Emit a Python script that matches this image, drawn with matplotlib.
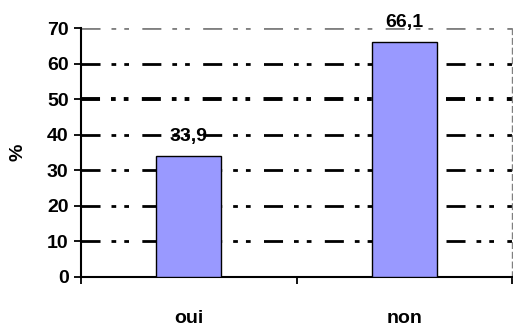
import matplotlib
matplotlib.use("Agg")
import matplotlib.pyplot as plt
from matplotlib.ticker import FixedLocator

categories = ["oui", "non"]
values = [33.9, 66.1]
value_labels = ["33,9", "66,1"]
y_ticks = [0, 10, 20, 30, 40, 50, 60, 70]

plt.rcParams["font.family"] = ["Liberation Sans", "DejaVu Sans"]
plt.rcParams["font.weight"] = "bold"
plt.rcParams["lines.scale_dashes"] = False

FS = 14

fig = plt.figure(figsize=(5.13, 3.27), dpi=100)
ax = fig.add_axes([0.158, 0.153, 0.840, 0.761])

x = list(range(len(categories)))
ax.set_xlim(-0.5, len(categories) - 0.5)
ax.set_ylim(0, 70)

# dash-dot-dot gridlines
dash = (0, (13.7, 7.9, 3.4, 5.8, 3.4, 9.6))
for yv in y_ticks[1:-1]:
    lw = 2.8 if yv == 50 else 2.0
    ax.axhline(yv, color="black", lw=lw, linestyle=dash, zorder=1)
# top border of plot area
ax.axhline(70, color="#808080", lw=2.0, linestyle=dash, zorder=1)

ax.bar(x, values, width=0.3, color="#9999FF", edgecolor="black", linewidth=1.0, zorder=3)

for xi, v, lab in zip(x, values, value_labels):
    ax.text(xi, v + 4.3, lab, ha="center", va="baseline", fontsize=FS, fontweight="bold", zorder=4)

ax.spines["top"].set_visible(False)
ax.spines["right"].set_color("#808080")
ax.spines["right"].set_linestyle((0, (4, 3)))
ax.spines["right"].set_linewidth(1.0)
ax.spines["left"].set_linewidth(1.5)
ax.spines["bottom"].set_linewidth(1.5)

ax.set_yticks(y_ticks)
ax.set_yticklabels([str(t) for t in y_ticks], fontsize=FS, fontweight="bold")
ax.tick_params(axis="y", direction="out", length=5, width=1.3, pad=4)

ax.xaxis.set_major_locator(FixedLocator([-0.5, 0.5, 1.5]))
ax.set_xticklabels([])
ax.xaxis.set_minor_locator(FixedLocator(x))
ax.set_xticklabels(categories, minor=True, fontsize=FS, fontweight="bold")
ax.tick_params(axis="x", which="major", direction="out", length=5, width=1.3)
ax.tick_params(axis="x", which="minor", length=0, pad=24)

ax.set_ylabel("%", fontsize=FS, fontweight="bold", labelpad=15)

fig.savefig("out.png", dpi=100)
